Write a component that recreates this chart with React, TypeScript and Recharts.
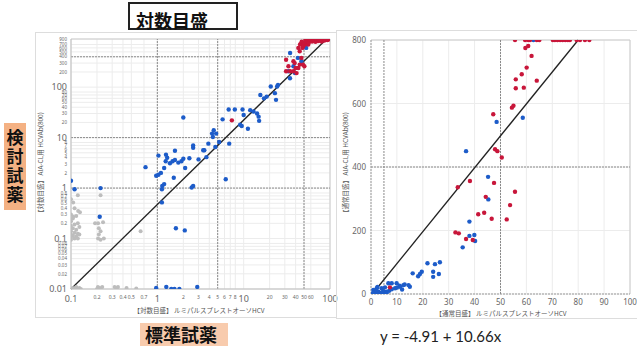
import { CartesianGrid, ReferenceLine, Scatter, ScatterChart, XAxis, YAxis } from "recharts"

// --- log-scale panel ---
const logXTicks = [0.1, 0.2, 0.3, 0.4, 0.5, 0.7, 1, 2, 3, 4, 5, 6, 7, 8, 10, 20, 30, 40, 50, 60, 100]
const logYTicks = [
  0.01, 0.02, 0.03, 0.04, 0.05, 0.06, 0.07, 0.08, 0.1, 0.2, 0.3, 0.4, 0.5, 0.6, 0.7, 0.8, 1, 2, 3, 4, 5, 6, 7, 8, 10,
  20, 30, 40, 50, 60, 70, 80, 100, 200, 300, 400, 500, 600, 700, 900,
]
const majorLogTicks = [0.01, 0.1, 1, 10, 100]
const logGuideX = [1, 5, 50]
const logGuideY = [1, 10, 400]
const logFit = [
  { x: 0.1, y: 0.01 },
  { x: 90, y: 880 },
]

const logBlue: [number, number][] = [
  [0.1, 1.4], [0.11, 0.95], [0.22, 1.0], [0.215, 0.27], [0.73, 2.6],
  [0.97, 1.76], [1.03, 1.84], [1.1, 2.0], [1.2, 2.5], [1.25, 3.4], [1.4, 3.1], [1.5, 3.4], [1.6, 3.6],
  [1.75, 3.2], [1.9, 3.4], [2.0, 3.8], [2.1, 2.5], [2.35, 3.9], [1.55, 1.6], [1.14, 1.1], [1.03, 4.4],
  [1.26, 4.6], [1.3, 4.0], [1.6, 5.5], [2.6, 7.0], [2.6, 6.3], [3.4, 5.6], [3.0, 3.7], [2.6, 1.1],
  [1.13, 0.95], [1.2, 1.2], [2.5, 1.03], [1.13, 0.52], [1.64, 0.16], [2.08, 0.145], [2.0, 25],
  [0.97, 0.0105], [1.27, 0.011], [1.45, 0.01], [1.58, 0.01], [1.8, 0.01], [2.9, 0.011],
  [6.2, 1.5], [3.5, 5.6], [3.7, 4.1], [3.9, 7.6], [4.3, 12], [4.5, 14], [4.4, 10.3], [4.8, 12],
  [4.7, 6.5], [5.2, 8.2], [5.7, 23], [6.7, 36], [6.8, 7.6], [7.9, 36], [9.7, 36], [9.1, 18],
  [9.5, 17], [11.2, 15], [10, 28], [11.9, 35], [13, 33], [14.3, 30], [14.9, 26], [15.1, 21.5],
  [15.6, 70], [17.2, 60], [18.5, 65], [20.6, 103], [23, 76], [24.4, 103], [23.7, 56], [25, 111],
  [34.5, 475], [32.9, 207], [37.7, 260], [34.4, 150], [39.3, 190], [42.5, 380], [53, 600], [46.6, 325],
]
const logRed: [number, number][] = [
  [7.3, 22], [31, 350], [33, 260], [34.5, 207], [31, 207], [37.7, 325], [39, 300], [43, 600],
  [44.6, 515], [46.6, 380], [48.6, 280], [50.5, 260], [44.6, 280], [43, 240], [41, 190], [37.7, 207],
  [46, 720], [50.5, 700], [40, 240], [45, 700], [49, 650], [53, 720], [48, 600], [56, 700],
  [47, 800], [50, 760], [52, 850], [55, 820], [57, 780], [58, 870], [60, 830], [62, 800], [64, 860],
  [66, 820], [68, 790], [70, 850], [73, 820], [75, 870], [78, 830], [80, 800], [83, 860], [86, 840],
  [89, 870], [93, 860], [96, 880],
]
const logGray: [number, number][] = [
  [0.12, 0.72], [0.106, 0.52], [0.121, 0.35], [0.127, 0.33], [0.106, 0.27], [0.1, 0.3], [0.115, 0.28],
  [0.105, 0.25], [0.1, 0.22], [0.12, 0.2], [0.11, 0.19], [0.1, 0.18], [0.125, 0.17], [0.105, 0.16],
  [0.115, 0.15], [0.1, 0.14], [0.11, 0.13], [0.12, 0.125], [0.1, 0.12], [0.105, 0.115], [0.115, 0.11],
  [0.1, 0.105], [0.11, 0.1], [0.12, 0.1], [0.125, 0.12], [0.1, 0.095], [0.11, 0.4], [0.1, 0.6],
  [0.206, 0.2], [0.235, 0.21], [0.21, 0.16], [0.22, 0.14], [0.21, 0.12], [0.206, 0.1], [0.22, 0.095],
  [0.24, 0.1], [0.22, 0.72], [0.19, 0.2], [0.64, 0.14],
  [0.1, 0.01], [0.105, 0.0105], [0.11, 0.01], [0.115, 0.011], [0.12, 0.01], [0.125, 0.0105], [0.13, 0.01],
  [0.2, 0.01], [0.205, 0.011], [0.21, 0.01], [0.215, 0.0105], [0.22, 0.01], [0.23, 0.011],
  [0.32, 0.011], [0.34, 0.0105], [0.35, 0.011], [0.44, 0.0105], [0.57, 0.0102],
]

// --- linear panel ---
const linXTicks = [0, 10, 20, 30, 40, 50, 60, 70, 80, 90, 100]
const linYTicks = [0, 200, 400, 600, 800]
const linGuideX = [5, 50]
const linGuideY = [400]
const linFit = [
  { x: 0.5, y: 0 },
  { x: 80, y: 800 },
]

const linBlue: [number, number][] = [
  [36.7, 450], [45.2, 369], [48.5, 542], [58.6, 555], [62.7, 800], [45.3, 298], [38, 228], [38, 183],
  [39.9, 186], [40.2, 167], [35.4, 147], [26.6, 100], [24.7, 94], [21.8, 97], [24, 70], [24, 54],
  [26.2, 63], [19.6, 70], [18.9, 63], [18.2, 56], [16.1, 65], [15, 23], [14.5, 28], [12.5, 28],
  [11.2, 23], [9.9, 34], [9.3, 18], [8, 34], [6.7, 34], [5.4, 21], [4.1, 18], [2.2, 18], [0.9, 13],
  [2.8, 7], [1.5, 2], [3.5, 4], [4.7, 10], [6, 7], [0.3, 1], [1, 5], [2, 10], [3, 3], [5, 5], [7, 10],
  [8, 15], [10, 20], [11, 26], [13, 30], [12, 14], [2.5, 22], [6, 2], [4, 1],
]
const linRed: [number, number][] = [
  [55.6, 800], [59.5, 800], [60.7, 800], [61.4, 800], [64, 800], [65, 800], [70.2, 800], [71, 800],
  [72, 800], [73, 800], [74, 800], [75, 800], [76, 800], [76.8, 800], [79.4, 800], [80.7, 800],
  [82.6, 800], [84.3, 800], [60.7, 781], [59.6, 775], [62, 750], [60.1, 713], [58.2, 692], [55.9, 676],
  [64, 672], [55.9, 648], [59, 650], [55, 593], [54.4, 587], [47.2, 566], [47.9, 456], [48.8, 450],
  [50.5, 430], [47.5, 350], [38.2, 356], [33.5, 336], [44.3, 306], [41.4, 251], [43.7, 256],
  [32.6, 194], [33.9, 191], [36.7, 173], [39.3, 170], [7.3, 21], [55.6, 322], [53.7, 280],
  [46.6, 237], [52.4, 235],
]

const BLUE = "#1d5cc9"
const RED = "#c8163a"
const GRAY = "#bdbdbd"
const tickFont = "'Noto Sans', 'DejaVu Sans', sans-serif"
const jpFont = "'Noto Sans CJK JP', sans-serif"

const pts = (a: [number, number][]) => a.map(([x, y]) => ({ x, y }))

const dot = (color: string, r: number) => (props: any) => (
  <circle cx={props.cx} cy={props.cy} r={r} fill={color} />
)

function LogXTick({ x, y, payload }: any) {
  const major = majorLogTicks.includes(payload.value)
  return (
    <text x={x} y={y + (major ? 12.5 : 9.5)} textAnchor="middle" fontSize={major ? 9 : 5} fill="#666" fontFamily={tickFont}>
      {payload.value}
    </text>
  )
}

function LogYTick({ x, y, payload }: any) {
  const major = majorLogTicks.includes(payload.value)
  return (
    <text x={x - 4} y={y} dy={major ? 3 : 1.7} textAnchor="end" fontSize={major ? 9 : 4.5} fill="#666" fontFamily={tickFont}>
      {payload.value}
    </text>
  )
}

function LinXTick({ x, y, payload }: any) {
  return (
    <text x={x} y={y + 11} textAnchor="middle" fontSize={8} fill="#666" fontFamily={tickFont}>
      {payload.value}
    </text>
  )
}

function LinYTick({ x, y, payload }: any) {
  return (
    <text x={x - 5} y={y} dy={3} textAnchor="end" fontSize={8} fill="#666" fontFamily={tickFont}>
      {payload.value}
    </text>
  )
}

function RotLabel({ cx, cy, text }: { cx: number; cy: number; text: string }) {
  return (
    <div
      style={{
        position: "absolute",
        left: cx,
        top: cy,
        transform: "translate(-50%, -50%) rotate(-90deg)",
        whiteSpace: "nowrap",
        fontSize: 6.5,
        color: "#555",
        fontFamily: jpFont,
      }}
    >
      {text}
    </div>
  )
}

function AxisText({ cx, cy, text }: { cx: number; cy: number; text: string }) {
  return (
    <div
      style={{
        position: "absolute",
        left: cx,
        top: cy,
        transform: "translate(-50%, -50%)",
        whiteSpace: "nowrap",
        fontSize: 6.5,
        color: "#555",
        fontFamily: jpFont,
      }}
    >
      {text}
    </div>
  )
}

export default function App() {
  return (
    <div style={{ position: "absolute", left: 0, top: 0, width: 637, height: 346, background: "#fff", overflow: "hidden" }}>
      {/* title */}
      <div
        style={{
          position: "absolute",
          left: 128,
          top: 2,
          width: 110,
          height: 28,
          boxSizing: "border-box",
          border: "2px solid #222",
          fontFamily: jpFont,
          fontWeight: 700,
          fontSize: 18,
          lineHeight: "18px",
          paddingLeft: 6,
          paddingTop: 7,
          color: "#111",
        }}
      >
        対数目盛
      </div>

      {/* left side label */}
      <div
        style={{
          position: "absolute",
          left: 4,
          top: 123,
          width: 22,
          height: 87,
          background: "#f4b183",
          display: "flex",
          alignItems: "center",
          justifyContent: "center",
        }}
      >
        <span style={{ writingMode: "vertical-rl", fontFamily: jpFont, fontWeight: 700, fontSize: 17, letterSpacing: 2, color: "#111" }}>
          検討試薬
        </span>
      </div>

      {/* bottom label */}
      <div
        style={{
          position: "absolute",
          left: 140,
          top: 323,
          width: 88,
          height: 30,
          background: "#f8cbad",
          fontFamily: jpFont,
          fontWeight: 700,
          fontSize: 18,
          lineHeight: "18px",
          paddingLeft: 5,
          paddingTop: 2,
          boxSizing: "border-box",
          color: "#111",
        }}
      >
        標準試薬
      </div>

      {/* equation */}
      <div style={{ position: "absolute", left: 380, top: 327, fontFamily: "Lato, 'Open Sans', sans-serif", fontSize: 15, color: "#222" }}>
        y = -4.91 + 10.66x
      </div>

      {/* log panel */}
      <div style={{ position: "absolute", left: 36, top: 33, width: 300, height: 284, outline: "1px solid #ddd" }}>
        <ScatterChart width={310} height={285} margin={{ top: 6, right: 16, bottom: 0, left: 0 }}>
          <CartesianGrid stroke="#ececec" />
          <XAxis
            type="number"
            dataKey="x"
            scale="log"
            domain={[0.1, 100]}
            allowDataOverflow
            ticks={logXTicks}
            interval={0}
            tick={<LogXTick />}
            tickLine={false}
            tickSize={0}
            tickMargin={0}
            height={29}
            axisLine={{ stroke: "#bbb" }}
          />
          <YAxis
            type="number"
            dataKey="y"
            scale="log"
            domain={[0.01, 900]}
            allowDataOverflow
            ticks={logYTicks}
            interval={0}
            tick={<LogYTick />}
            tickLine={false}
            tickSize={0}
            tickMargin={0}
            width={35}
            axisLine={{ stroke: "#bbb" }}
          />
          <ReferenceLine x={100} stroke="#ccc" />
          <ReferenceLine y={900} stroke="#ccc" />
          {logGuideX.map((v) => (
            <ReferenceLine key={"gx" + v} x={v} stroke="#8a8a8a" strokeDasharray="2 1" />
          ))}
          {logGuideY.map((v) => (
            <ReferenceLine key={"gy" + v} y={v} stroke="#8a8a8a" strokeDasharray="2 1" />
          ))}
          <ReferenceLine segment={logFit} stroke="#222" strokeWidth={1.3} ifOverflow="visible" />
          <Scatter data={pts(logGray)} shape={dot(GRAY, 2)} isAnimationActive={false} />
          <Scatter data={pts(logBlue)} shape={dot(BLUE, 2.2)} isAnimationActive={false} />
          <Scatter data={pts(logRed)} shape={dot(RED, 2.2)} isAnimationActive={false} />
        </ScatterChart>
      </div>
      <RotLabel cx={40} cy={164} text="【対数目盛】 AIA-CL用 HCVAb(800)" />
      <AxisText cx={199} cy={310} text="【対数目盛】 ルミパルスプレストオーソHCV" />

      {/* linear panel */}
      <div style={{ position: "absolute", left: 337, top: 31, width: 300, height: 287, outline: "1px solid #ddd" }}>
        <ScatterChart width={300} height={287} margin={{ top: 9, right: 7, bottom: 0, left: 0 }}>
          <CartesianGrid stroke="#ececec" />
          <XAxis
            type="number"
            dataKey="x"
            domain={[0, 100]}
            allowDataOverflow
            ticks={linXTicks}
            interval={0}
            tick={<LinXTick />}
            tickLine={false}
            tickSize={0}
            tickMargin={0}
            height={24}
            axisLine={{ stroke: "#999", strokeDasharray: "2 1" }}
          />
          <YAxis
            type="number"
            dataKey="y"
            domain={[0, 800]}
            allowDataOverflow
            ticks={linYTicks}
            interval={0}
            tick={<LinYTick />}
            tickLine={false}
            tickSize={0}
            tickMargin={0}
            width={34}
            axisLine={{ stroke: "#999", strokeDasharray: "2 1" }}
          />
          <ReferenceLine x={100} stroke="#ccc" />
          <ReferenceLine y={800} stroke="#ccc" />
          {linGuideX.map((v) => (
            <ReferenceLine key={"lx" + v} x={v} stroke="#8a8a8a" strokeDasharray="2 1" />
          ))}
          {linGuideY.map((v) => (
            <ReferenceLine key={"ly" + v} y={v} stroke="#8a8a8a" strokeDasharray="2 1" />
          ))}
          <ReferenceLine segment={linFit} stroke="#222" strokeWidth={1.3} ifOverflow="visible" />
          <Scatter data={pts(linBlue)} shape={dot(BLUE, 2.2)} isAnimationActive={false} />
          <Scatter data={pts(linRed)} shape={dot(RED, 2.2)} isAnimationActive={false} />
        </ScatterChart>
      </div>
      <RotLabel cx={345} cy={164} text="【通常目盛】 AIA-CL用 HCVAb(800)" />
      <AxisText cx={501} cy={313} text="【通常目盛】 ルミパルスプレストオーソHCV" />
    </div>
  )
}
